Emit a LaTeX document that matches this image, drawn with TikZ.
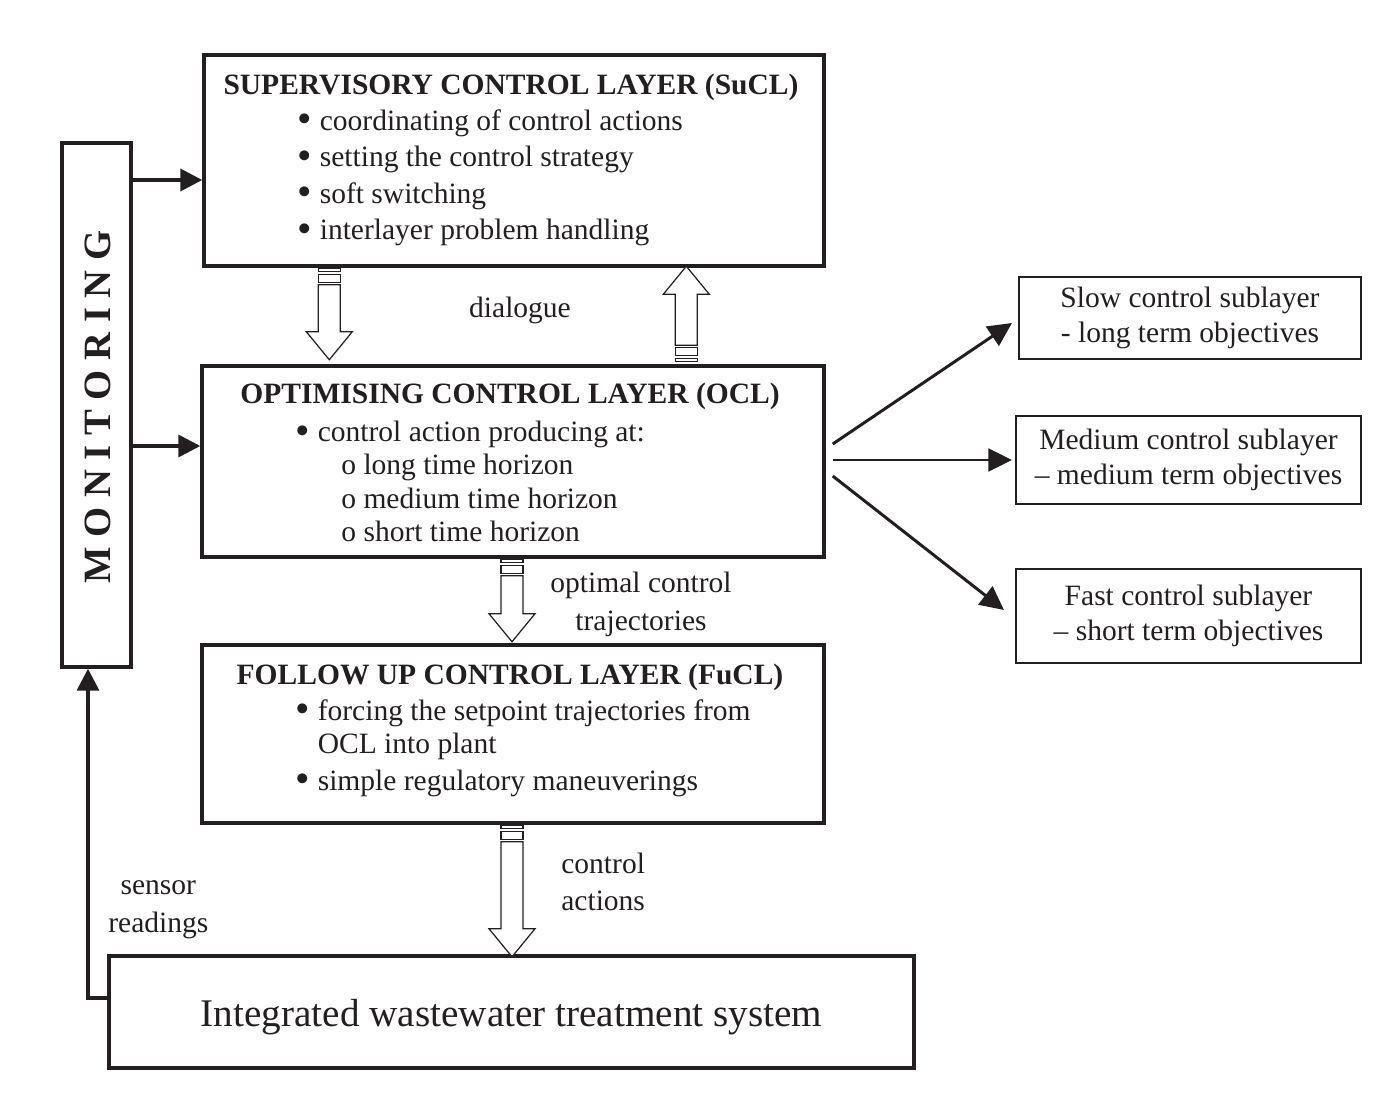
\documentclass[tikz,border=0pt]{standalone}
\usepackage{fontspec}
\setmainfont{Liberation Serif}
\usetikzlibrary{arrows.meta,calc}
\definecolor{ink}{HTML}{231F20}
\newcommand{\bul}{\raisebox{-.08em}{\scalebox{1.4}{\textbullet}}\hspace{.26em}}

\begin{document}
\begin{tikzpicture}[x=0.02cm,y=-0.02cm,color=ink,
  layer/.style={draw,line width=2pt,inner sep=0pt},
  sublayer/.style={draw,line width=1.2pt,align=center,font=\fontsize{16.8}{19.8}\selectfont},
  head/.style={inner sep=0pt,font=\fontsize{16.8}{20}\selectfont\bfseries},
  body/.style={inner sep=0pt,align=left,font=\fontsize{16.8}{#1}\selectfont},
  body/.default=20.8,
  flow/.style={line width=2pt,-{Triangle[length=12.5pt,width=12.5pt]}},
  branch/.style={line width=1.7pt,-{Triangle[length=13.5pt,width=13pt]}},
  hollow/.style={line width=0.7pt,fill=white},
  pics/bararrow/.style={code={
    \draw[hollow] (-11,1) rectangle (11,4);
    \draw[hollow] (-11,7) rectangle (11,15);
    \draw[hollow] (-11,17) -- (-11,#1-28) -- (-23,#1-28) -- (0,#1) -- (23,#1-28) -- (11,#1-28) -- (11,17) -- cycle;
  }}]
\useasboundingbox (0,0) rectangle (1392,1118);

\node[layer,minimum width=12.4cm,minimum height=4.22cm] (sucl) at (514,160.5) {};
\node[head,anchor=base] (sucltitle) at ($(sucl.north)+(-3,41.5)$) {SUPERVISORY CONTROL LAYER (SuCL)};
\node[body,anchor=base west] (suclitems) at ($(sucl.north west)+(95,186.5)$) {\bul coordinating of control actions\\
  \bul setting the control strategy\\
  \bul soft switching\\
  \bul interlayer problem handling};

\node[layer,minimum width=12.44cm,minimum height=3.82cm] (ocl) at (513,461.5) {};
\node[head,anchor=base] (ocltitle) at ($(ocl.north)+(-3,39.5)$) {OPTIMISING CONTROL LAYER (OCL)};
\node[body=18.9,anchor=base west] (oclitems) at ($(ocl.north west)+(95,177)$) {\bul control action producing at:\\
  \hspace*{1.55em}o long time horizon\\
  \hspace*{1.55em}o medium time horizon\\
  \hspace*{1.55em}o short time horizon};

\node[layer,minimum width=12.44cm,minimum height=3.56cm] (fucl) at (513,734) {};
\node[head,anchor=base] (fucltitle) at ($(fucl.north)+(-3,41)$) {FOLLOW UP CONTROL LAYER (FuCL)};
\node[body=18.7,anchor=base west] (fuclitems) at ($(fucl.north west)+(95,147)$) {\bul forcing the setpoint trajectories from\\
  \hphantom{\bul}OCL into plant\\[2.3pt]
  \bul simple regulatory maneuverings};

\node[layer,minimum width=16.1cm,minimum height=2.24cm] (plant) at (511.5,1012) {};
\node[inner sep=0pt,font=\fontsize{22.3}{26}\selectfont] (plantlabel) at ($(plant.center)+(0,5)$) {Integrated wastewater treatment system};

\node[layer,minimum width=1.38cm,minimum height=10.48cm] (monitor) at (96.5,405) {};
\node[rotate=90,inner sep=0pt,font=\fontsize{22}{24}\selectfont\bfseries] (montext) at ($(monitor.center)+(1,2)$) {M O N I T O R I N G};

\node[sublayer,minimum width=6.84cm,minimum height=1.64cm] (slow) at (1190,318) {Slow control sublayer\\- long term objectives};
\node[sublayer,minimum width=6.9cm,minimum height=1.76cm] (medium) at (1188.5,460) {Medium control sublayer\\\textendash{} medium term objectives};
\node[sublayer,minimum width=6.9cm,minimum height=1.88cm] (fast) at (1188.5,616) {Fast control sublayer\\\textendash{} short term objectives};

\coordinate (s1) at ($(sucl.west)+(0,19.5)$);
\coordinate (s2) at ($(ocl.west)+(0,-15.5)$);
\draw[flow] (s1 -| monitor.east) -- (s1);
\draw[flow] (s2 -| monitor.east) -- (s2);
\draw[flow] ($(plant.west)+(0,-14)$) -| ($(monitor.south)+(-8.5,0)$);

\draw[branch] ($(ocl.east)+(7,-17.5)$) -- ($(slow.west)+(-6,5)$);
\draw[branch] ($(ocl.east)+(7,-1.5)$) -- ($(medium.west)+(-3,0)$);
\draw[branch] ($(ocl.east)+(7,14.5)$) -- ($(fast.west)+(-11,-6)$);

\pic at ($(sucl.south west)+(127,0)$) {bararrow=92};
\pic[rotate=180] at ($(ocl.north west)+(486,-2)$) {bararrow=96};
\pic at ($(ocl.south)+(-1,0)$) {bararrow=83};
\pic at ($(fucl.south)+(-1,0)$) {bararrow=132};

\node[body=21.5,anchor=base] (dlg) at ($(sucl.south)+(6,50)$) {dialogue};
\node[body=21.5,align=center,anchor=base] (traj) at ($(ocl.south)+(128,72)$) {optimal control\\trajectories};
\node[body=21,anchor=base west] (act) at ($(fucl.south)+(48,86)$) {control\\actions};
\node[body=21.5,align=center,anchor=base] (sens) at ($(plant.north west)+(51,-22)$) {sensor\\readings};
\end{tikzpicture}
\end{document}
